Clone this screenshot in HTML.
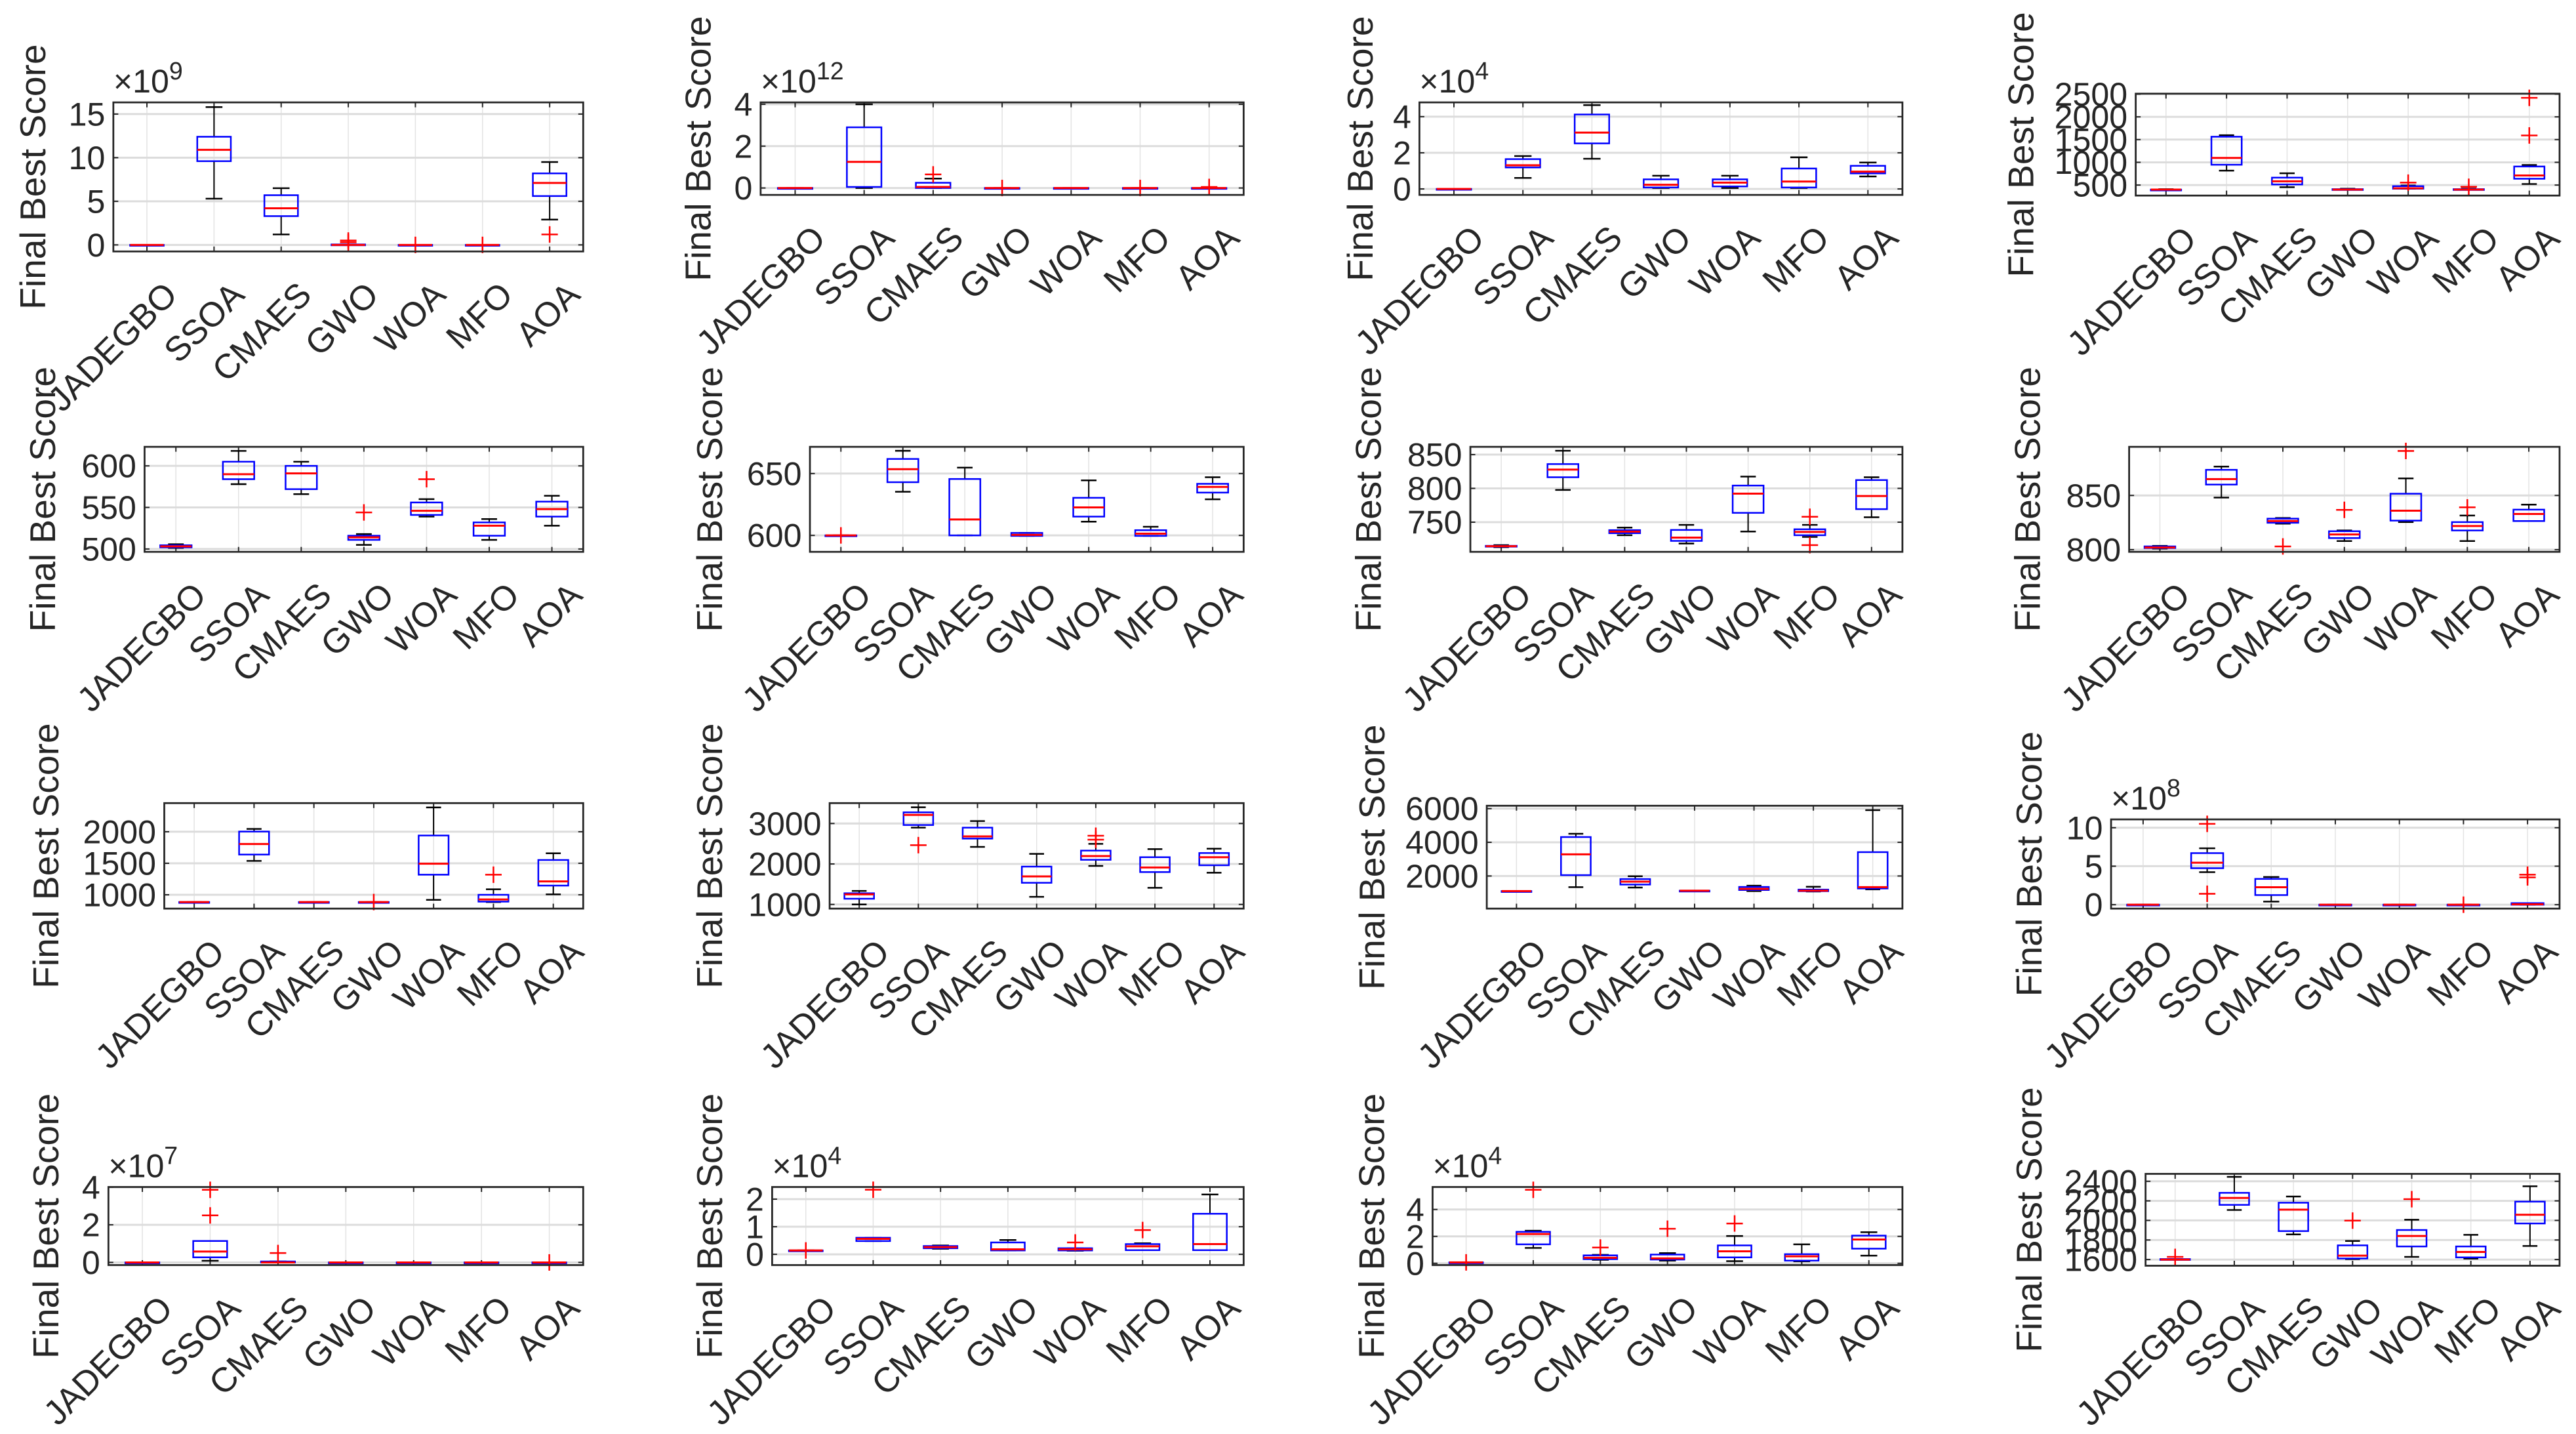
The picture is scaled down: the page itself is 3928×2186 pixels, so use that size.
<!DOCTYPE html>
<html><head><meta charset="utf-8"><style>
html,body{margin:0;padding:0;background:#fff;}
svg{display:block;}
text{font-family:"Liberation Sans",Arial,sans-serif;fill:#262626;}
</style></head>
<body>
<svg id="fig" width="3928" height="2186" viewBox="0 0 1568 872.6" preserveAspectRatio="none" xmlns="http://www.w3.org/2000/svg"></svg>
<script>
const categories = ["JADEGBO","SSOA","CMAES","GWO","WOA","MFO","AOA"];
const lows = [
[0,5.3,1.2,0,0,0,2.9],[0,0,0,0,0,0,0],[0,0.61,1.67,0.05,0.05,0.05,0.69],[400,817,452,400,420,400,524],
[501.3,578,566,505,539,511,528],[600,635.3,600,599.6,611.1,599.6,629.2],[713,797.7,730.7,718.4,736.2,728.2,757.3],[801,848,824,808,825.4,808,826.4],
[885,1538,885,885,920,885,1007],[1000,2897,2421,1189,1951,1411,1784],[1104,1338,1312,1130,1104,1080,1208],[0,4.23,0.4,0,0,0,0],
[0,0.09,0,0,0,0,0],[0.14,0.48,0.2,0.14,0.13,0.15,0.15],[0.07,1.14,0.26,0.2,0.16,0.15,0.57],[1600,2107,1857,1605,1627,1610,1739]];
const q1s = [
[0,9.6,3.3,0,0,0,5.6],[0,0.05,0,0,0,0,0],[0,1.19,2.52,0.08,0.14,0.08,0.86],[400,947,514,400,420,400,639],
[502,584,572,511,541,516,539],[600,643,600,599.6,615.2,599.6,634.6],[714,816.5,733.7,722.3,763.8,730.7,769.3],[801.5,860,824.8,810.7,826.8,817.7,826.4],
[885,1638,885,885,1319,892,1146],[1141,2962,2627,1535,2103,1800,1968],[1104,2052,1493,1130,1169,1100,1260],[0,4.74,1.25,0,0,0,0],
[0,0.27,0,0,0,0,0],[0.14,0.48,0.22,0.14,0.14,0.15,0.15],[0.07,1.41,0.31,0.28,0.44,0.2,1.09],[1600,2159,1891,1611,1734,1622,1969]];
const meds = [
[0,10.9,4.2,0,0,0,7.1],[0,1.25,0.05,0,0,0,0],[0,1.31,3.12,0.23,0.35,0.41,0.96],[400,1096,582,400,430,400,711],
[503.2,590,591,514,546,528,548],[600,653.5,612.9,600.4,622.6,601.4,639.2],[714.5,827.8,736,727.2,792.2,735.6,788.7],[802,865,826.4,814,835.9,821.8,832.9],
[885,1805,885,885,1493,927,1212],[1249,3211,2681,1692,2195,1913,2167],[1104,3286,1662,1130,1234,1130,1338],[0,5.45,2.27,0,0,0,0.05],
[0,0.58,0,0,0,0,0],[0.14,0.56,0.26,0.18,0.18,0.29,0.37],[0.07,2.18,0.41,0.37,0.89,0.52,1.77],[1600,2230,2110,1640,1841,1678,2058]];
const q3s = [
[0,12.4,5.7,0.05,0,0,8.2],[0,2.9,0.25,0,0,0,0],[0,1.65,4.12,0.53,0.53,1.13,1.28],[400,1563,663,410,476,410,908],
[504.5,605,600,516,556,532,557],[600,661.8,645.6,602,630.4,604.2,641.7],[715,836,738.2,738.5,804.2,739.5,812.3],[803,873.6,828.6,817,851.6,825.4,836.9],
[885,2003,885,885,1940,1000,1552],[1276,3275,2897,1935,2330,2167,2270],[1104,4312,1818,1130,1350,1190,3416],[0,6.7,3.35,0,0,0,0.2],
[0,1.14,0.05,0,0,0,0],[0.14,0.6,0.3,0.43,0.22,0.37,1.47],[0.07,2.34,0.59,0.65,1.33,0.68,2.06],[1605,2282,2181,1745,1902,1734,2192]];
const highs = [
[0,15.8,6.5,0.05,0,0,9.5],[0,4.0,0.45,0,0,0,0],[0,1.82,4.64,0.73,0.73,1.75,1.46],[410,1597,760,420,490,420,942],
[505.8,618,605,518,560,536,564],[600,668.4,654.8,602,644.5,607,647],[716,855.7,742,746,817.5,746,816.5],[803.5,876.6,829.2,817.7,865.7,831.5,841.5],
[885,2045,885,885,2385,1087,1659],[1335,3400,3059,2249,2497,2367,2378],[1104,4507,1987,1130,1428,1364,5910],[0,7.33,3.6,0,0,0,0.2],
[0,1.14,0.05,0,0,0,0],[0.14,0.6,0.32,0.52,0.22,0.40,2.17],[0.07,2.42,0.63,0.76,2.03,1.41,2.31],[1605,2445,2244,1790,2007,1853,2349]];
const outliers = [
[[3,0.5],[3,0.3],[4,0],[5,0],[6,1.2]],[[2,0.65],[3,0],[5,0],[6,0.05]],[],[[4,553],[5,462],[6,1591],[6,2418]],
[[3,544],[4,584]],[[0,600]],[[5,758],[5,716]],[[2,803],[3,836.7],[4,891],[5,839]],
[[5,1319],[3,885]],[[1,2465],[4,2697],[4,2600]],[],[[1,10.5],[1,1.42],[6,3.9],[6,3.55],[5,0]],
[[1,3.86],[1,2.5],[2,0.5],[6,0]],[[0,0.14],[1,2.34],[4,0.43],[5,0.88]],[[0,0.07],[1,5.46],[2,1.17],[3,2.57],[4,2.96]],[[0,1627],[3,1998],[4,2217]]];
const yTicks = [
[0,5,10,15],[0,2,4],[0,2,4],[500,1000,1500,2000,2500],
[500,550,600],[600,650],[750,800,850],[800,850],
[1000,1500,2000],[1000,2000,3000],[2000,4000,6000],[0,5,10],
[0,2,4],[0,1,2],[0,2,4],[1600,1800,2000,2200,2400]];
const exponents = [9,12,4,null,null,null,null,null,null,null,null,8,7,4,4,null];
const yMin = [-0.75,-0.33,-0.33,269,496.6,586.7,706.1,798,781,897,64,-0.51,-0.14,-0.39,-0.13,1537];
const yMax = [16.34,4.09,4.79,2510,622.9,671.6,861.5,894.8,2454,3503,6170,11.08,4.01,2.44,5.67,2476];
// layout (pixel geometry, not data): [left, top, right, bottom, ylabelX]
const layout = [
[69,62.3,355,153,20],[463,62.3,757,118.6,425],[864,62.3,1158,118.6,828],[1300,57,1558,119,1230],
[88,271.9,355,335.8,26],[493,271.9,757,335.8,432],[895,271.9,1158,335.8,833],[1296,271.9,1558,335.8,1234],
[100,488.7,355,552.9,28],[505,488.7,757,552.9,432],[905,490.3,1158,552.9,835],[1285,498.6,1558,552.9,1235],
[66,722.3,355,769.8,28],[470,722.3,757,769.8,432],[872,722.3,1158,769.8,835],[1306,714.3,1558,770.2,1235]];

const NS="http://www.w3.org/2000/svg";
const svg=document.getElementById('fig');
function mk(tag,attrs,parent){const e=document.createElementNS(NS,tag);for(const k in attrs)e.setAttribute(k,attrs[k]);(parent||svg).appendChild(e);return e;}

for(let p=0;p<16;p++){
  const [L,T,R,B,YLX]=layout[p];
  const g=mk('g',{});
  
  
  const n=categories.length, step=(R-L)/n;
  const xs=i=>L+step*(i+0.5);
  const ys=v=>B-(v-yMin[p])/(yMax[p]-yMin[p])*(B-T);
  for(let i=0;i<n;i++){
    const gl=mk('line',{x1:xs(i),x2:xs(i),y1:T,y2:B,stroke:'#e3e3e3','stroke-width':0.6},g);
    
    
  }
  yTicks[p].forEach(t=>{
    const y=ys(t);
    const gl=mk('line',{x1:L,x2:R,y1:y,y2:y,stroke:'#dcdcdc','stroke-width':1.2},g);
    
    
    mk('line',{x1:L,x2:L+3,y1:y,y2:y,stroke:'#262626','stroke-width':0.8},g);
    mk('line',{x1:R-3,x2:R,y1:y,y2:y,stroke:'#262626','stroke-width':0.8},g);
    const tl=mk('text',{x:L-5,y:y+7,'text-anchor':'end','font-size':20},g);
    tl.textContent=t;
    
    
  });
  const bw=step*0.25;
  for(let i=0;i<n;i++){
    const x=xs(i);
    mk('line',{x1:x,x2:x,y1:T,y2:T+3,stroke:'#262626','stroke-width':0.8},g);
    mk('line',{x1:x,x2:x,y1:B-3,y2:B,stroke:'#262626','stroke-width':0.8},g);
    const bg=mk('g',{},g);
    
    
    mk('line',{x1:x,x2:x,y1:ys(highs[p][i]),y2:ys(q3s[p][i]),stroke:'#000','stroke-width':0.8},bg);
    mk('line',{x1:x,x2:x,y1:ys(q1s[p][i]),y2:ys(lows[p][i]),stroke:'#000','stroke-width':0.8},bg);
    mk('line',{x1:x-bw*0.5,x2:x+bw*0.5,y1:ys(highs[p][i]),y2:ys(highs[p][i]),stroke:'#000','stroke-width':1},bg);
    mk('line',{x1:x-bw*0.5,x2:x+bw*0.5,y1:ys(lows[p][i]),y2:ys(lows[p][i]),stroke:'#000','stroke-width':1},bg);
    const y3=ys(q3s[p][i]),y1=ys(q1s[p][i]);
    mk('rect',{x:x-bw,y:y3,width:2*bw,height:Math.max(y1-y3,0.5),fill:'none',stroke:'#0000ff','stroke-width':1},bg);
    const ym=ys(meds[p][i]);
    mk('line',{x1:x-bw,x2:x+bw,y1:ym,y2:ym,stroke:'#ff0000','stroke-width':1.2},bg);
  }
  outliers[p].forEach(o=>{
    const x=xs(o[0]),y=ys(o[1]);
    const og=mk('g',{},g);
    
    
    mk('line',{x1:x-5,x2:x+5,y1:y,y2:y,stroke:'#ff0000','stroke-width':1},og);
    mk('line',{x1:x,x2:x,y1:y-5,y2:y+5,stroke:'#ff0000','stroke-width':1},og);
  });
  const fr=mk('rect',{x:L,y:T,width:R-L,height:B-T,fill:'none',stroke:'#262626','stroke-width':1.1},g);
  
  
  for(let i=0;i<n;i++){
    const x=xs(i)+9,y=B+17;
    const t=mk('text',{x:x,y:y,'text-anchor':'end','font-size':21,transform:`rotate(-45 ${x} ${y})`,'dominant-baseline':'hanging'},g);
    t.textContent=categories[i];
    
    
  }
  const cy=(T+B)/2;
  const yl=mk('text',{x:YLX,y:cy,'text-anchor':'middle','font-size':22,transform:`rotate(-90 ${YLX} ${cy})`,'dominant-baseline':'central'},g);
  yl.textContent='Final Best Score';
  
  
  if(exponents[p]!==null){
    const ex=mk('text',{x:L,y:T-6,'font-size':20},g);
    
    
    const a=mk('tspan',{},ex);a.textContent='\u00d710';
    const b=mk('tspan',{dy:-8,'font-size':15},ex);b.textContent=exponents[p];
  }
}
</script>
</body></html>
